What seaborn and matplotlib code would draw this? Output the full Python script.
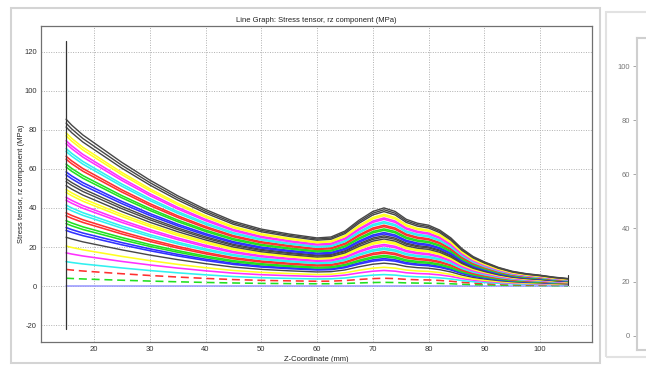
import numpy as np
import pandas as pd
import matplotlib
matplotlib.use("Agg")
import matplotlib.pyplot as plt
from matplotlib.patches import Rectangle
import seaborn as sns

# z positions (mm) and the stress profile of the top (last) curve
Z_MM = [15, 16, 18, 20, 22.5, 25, 27.5, 30, 35, 40, 45, 50, 55, 60, 62.5, 65, 67.5,
        70, 72, 74, 76, 78, 80, 82, 84, 86, 88, 90, 92.5, 95, 97.5, 100, 102.5, 105]
TOP_PROFILE = [85, 82, 77, 73, 68, 63, 58.5, 54, 46, 39, 33, 29, 26.5, 24.5, 25, 28, 33.5,
               38, 39.8, 38, 34, 32, 31, 28.5, 24.5, 19, 15, 12.3, 9.5, 7.5, 6.3, 5.5, 4.5, 3.8]

# value of each curve at z = 15 mm (one curve per load step) and its colour
START_LEVELS = [0, 4, 8.5, 12.5, 17, 20.5, 25,
                28.5, 30, 32, 33.5, 36, 37.5, 40, 41.5, 44, 45.5, 48, 49.5, 51.5, 53.5, 55,
                57, 58.5, 61, 62.5, 65, 66.5, 69, 70.5, 73, 74.5, 77, 78.5, 81.5, 83.5, 85.5]
CURVE_COLORS = ["blue", "green", "red", "cyan", "magenta", "yellow", "black",
                "blue", "blue", "green", "green", "red", "red", "cyan", "cyan",
                "magenta", "magenta", "yellow", "yellow", "black", "black", "black",
                "blue", "blue", "green", "green", "red", "red", "cyan", "cyan",
                "magenta", "magenta", "yellow", "yellow", "black", "black", "black"]
DASHED_LEVELS = [4, 8.5]

X_TICKS = [20, 30, 40, 50, 60, 70, 80, 90, 100]
Y_TICKS = [-20, 0, 20, 40, 60, 80, 100, 120]
SIDE_TICKS = [0, 20, 40, 60, 80, 100]

PALETTE = {"blue": "#3030ff", "green": "#20e020", "red": "#ff3030", "cyan": "#30f0f0",
           "magenta": "#ff30ff", "yellow": "#ffff20", "black": "#474747"}

sns.set_style("whitegrid")
plt.rcParams["font.family"] = ["Liberation Sans", "DejaVu Sans"]
plt.rcParams["axes.unicode_minus"] = False

fig = plt.figure(figsize=(6.46, 3.67), dpi=100)
W, H = 646, 367

# panel frames like the screenshot
fig.add_artist(Rectangle((11 / W, 1 - 363 / H), 589 / W, 355 / H, transform=fig.transFigure,
                         fill=False, edgecolor="#d4d4d4", linewidth=1.5))
fig.add_artist(Rectangle((606 / W, 1 - 357 / H), 60 / W, 345 / H, transform=fig.transFigure,
                         fill=False, edgecolor="#e2e2e2", linewidth=1.5))

ax = fig.add_axes([41 / W, 1 - 342 / H, 551 / W, 316 / H])

profile = np.array(TOP_PROFILE)
for level, cname in zip(START_LEVELS, CURVE_COLORS):
    stress = profile * level / profile[0]
    df = pd.DataFrame({"z": Z_MM, "stress": stress})
    col = "#9a9aff" if level == 0 else PALETTE[cname]
    ls = (0, (5, 3)) if level in DASHED_LEVELS else "-"
    lw = 1.0 if cname == "black" else 1.15
    sns.lineplot(data=df, x="z", y="stress", color=col, linewidth=lw,
                 linestyle=ls, ax=ax, legend=False, estimator=None, sort=False)

# vertical marker lines at the ends of the domain
sns.lineplot(x=[15, 15], y=[-22, 125.5], color="#333333", linewidth=0.9, ax=ax,
             estimator=None, sort=False)
sns.lineplot(x=[105, 105], y=[0.5, 5.5], color="#333333", linewidth=0.8, ax=ax,
             estimator=None, sort=False)

ax.set_xlim(10.5, 109.3)
ax.set_ylim(-28.7, 133.3)
ax.set_xticks(X_TICKS)
ax.set_yticks(Y_TICKS)
ax.grid(True, color="#b0b0b0", linestyle=(0, (1, 1.5)), linewidth=0.7)
for s in ax.spines.values():
    s.set_color("#707070")
    s.set_linewidth(0.9)
ax.tick_params(labelsize=5.5, colors="#333333", length=0, pad=3)
ax.set_title("Line Graph: Stress tensor, rz component (MPa)", fontsize=5.5, pad=3, color="#222222")
ax.set_xlabel("Z-Coordinate (mm)", fontsize=5.5, color="#222222")
ax.set_ylabel("Stress tensor, rz component (MPa)", fontsize=5.5, color="#222222")
ax.xaxis.set_label_coords(0.5, -0.044)
ax.yaxis.set_label_coords(-0.029, 0.5)

# cut-off side axis at the right edge
side = fig.add_axes([637 / W, 1 - 350 / H, 0.1, 312 / H])
side.set_facecolor("white")
side.set_ylim(-5.2, 110.4)
side.set_yticks(SIDE_TICKS)
side.set_xticks([])
side.grid(False)
for name, s in side.spines.items():
    s.set_color("#cfcfcf")
    s.set_linewidth(1.5)
side.spines["right"].set_visible(False)
side.tick_params(axis="y", labelsize=5.5, colors="#999999", labelcolor="#777777",
                 length=3, width=0.6, direction="out", pad=2, left=True)

fig.savefig("out.png", dpi=100)
